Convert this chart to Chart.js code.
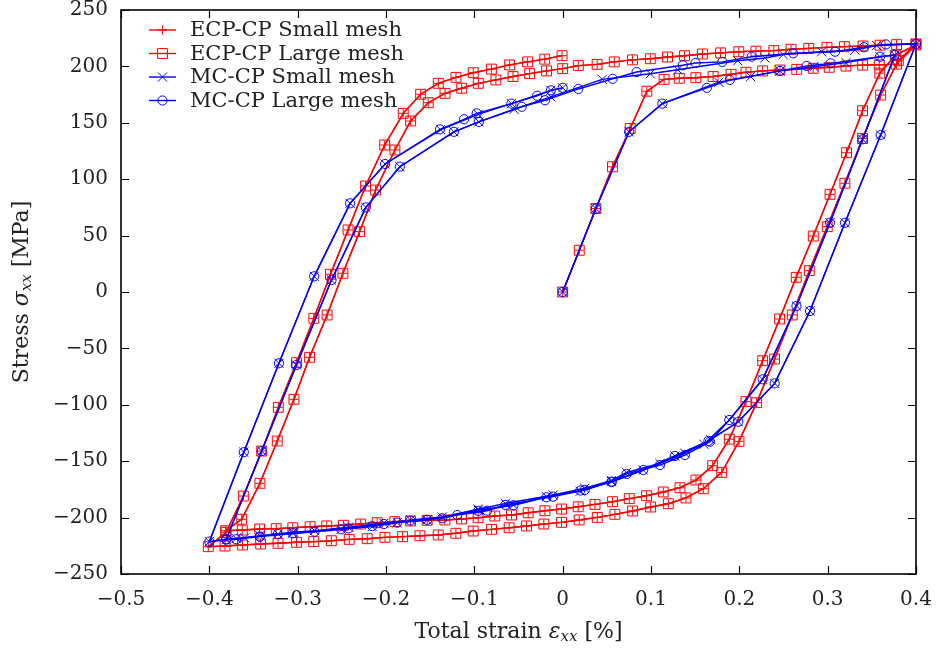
<!DOCTYPE html>
<html>
<head>
<meta charset="utf-8">
<title>Cyclic stress-strain</title>
<script src="https://cdn.jsdelivr.net/npm/chart.js@4.4.1/dist/chart.umd.min.js"></script>
<style>
  html, body { margin: 0; padding: 0; background: #fff; }
  #wrap { width: 938px; height: 652px; }
</style>
</head>
<body>
<div id="wrap"><canvas id="chart" width="938" height="652"></canvas></div>
<script>
// axis ticks
const xTicks = [-0.5, -0.4, -0.3, -0.2, -0.1, 0, 0.1, 0.2, 0.3, 0.4];
const xTickLabels = ['−0.5', '−0.4', '−0.3', '−0.2', '−0.1', '0', '0.1', '0.2', '0.3', '0.4'];
const yTicks = [-250, -200, -150, -100, -50, 0, 50, 100, 150, 200, 250];
const yTickLabels = ['−250', '−200', '−150', '−100', '−50', '0', '50', '100', '150', '200', '250'];

const seriesLabels = ['ECP-CP Small mesh', 'ECP-CP Large mesh', 'MC-CP Small mesh', 'MC-CP Large mesh'];

// ECP-CP (both meshes give the same curve)
const ecpStrain = [
  0, 0.0188, 0.0376, 0.0564, 0.0765, 0.0953, 0.1148, 0.132, 0.1508, 0.1703, 0.1906, 0.2075, 0.2264, 0.246, 0.265, 0.2837, 0.3018, 0.3207, 0.3396, 0.3584, 0.378, 0.4,
  0.377, 0.359, 0.3395, 0.3214, 0.3027, 0.2837, 0.2644, 0.2456, 0.2264, 0.2075, 0.1886, 0.1698, 0.1509, 0.1328, 0.1139, 0.095, 0.0754, 0.0565, 0.0366, 0.0176,
  -0.0012, -0.0201, -0.039, -0.0579, -0.0768, -0.0957, -0.1145, -0.1334, -0.1534, -0.1722, -0.19, -0.21, -0.2287, -0.2482, -0.2671, -0.2859, -0.3055, -0.3243, -0.3431, -0.3627, -0.3816,
  -0.3634, -0.3427, -0.3231, -0.3042, -0.2865, -0.2667, -0.2488, -0.2299, -0.2118, -0.1899, -0.1721, -0.1522, -0.1332, -0.1143, -0.0955, -0.0756, -0.0562, -0.0374, -0.0182, 0,
  0.0177, 0.039, 0.0584, 0.079, 0.0992, 0.1187, 0.138, 0.1583, 0.1788, 0.1994, 0.2188, 0.239, 0.2585, 0.2786, 0.2992, 0.3189, 0.34, 0.3593, 0.378, 0.4,
  0.38, 0.36, 0.3395, 0.3195, 0.2995, 0.2792, 0.2599, 0.2399, 0.2196, 0.1996, 0.18, 0.1592, 0.1396, 0.1196, 0.0996, 0.0792, 0.0591, 0.0392, 0.0187, -0.0013,
  -0.0213, -0.0409, -0.0606, -0.0805, -0.1013, -0.1209, -0.1409, -0.1616, -0.1812, -0.2012, -0.2213, -0.2416, -0.2619, -0.2818, -0.3013, -0.3222, -0.3419, -0.3624, -0.3823, -0.4012,
  -0.381, -0.3615, -0.3407, -0.3219, -0.3014, -0.2817, -0.2628, -0.2429, -0.2231, -0.2015, -0.1805, -0.1608, -0.1408, -0.1208, -0.1012, -0.0807, -0.06, -0.0397, -0.0203, -0.0007
];
const ecpStress = [
  0, 37, 74, 111, 145, 178, 188.5, 189.5, 190, 191, 193, 194.8, 196, 196.8, 197.4, 198.3, 199.2, 200.3, 201.1, 201.4, 202, 219,
  210, 194, 160.7, 123.5, 86.6, 49.6, 13, -23.9, -60.9, -97.2, -130.5, -154, -166.7, -173.5, -177.3, -180.6, -183.2, -185.9, -188.3, -190.4,
  -192.4, -193.9, -195.7, -197.7, -198.6, -200.1, -201.2, -202.1, -202.4, -203, -203.6, -204.5, -205.7, -206.8, -207.4, -208.1, -209, -209.8, -210.1, -211, -211.6,
  -201.5, -169.6, -132.1, -95.1, -57.9, -20.4, 16.6, 53.5, 90.4, 125.9, 151.6, 167.8, 176.1, 180.6, 185, 188, 191, 193.6, 196, 198,
  200.7, 201.8, 204, 205.8, 206.8, 208.3, 209.5, 211, 212, 213, 213.5, 214, 215.2, 216, 216.9, 217.5, 218.1, 218.8, 219.3, 220,
  205, 174.6, 136.2, 96.4, 57.9, 18.9, -20.4, -59.4, -98.1, -132.4, -159.9, -174.4, -182.6, -187.7, -190.6, -194.1, -197.1, -199.8, -202.1, -204.2,
  -205.7, -207.4, -209, -210.4, -211.9, -213.9, -215.4, -216.1, -216.9, -217.5, -218.7, -219.3, -220.5, -221.3, -221.9, -222.8, -223.4, -224.3, -225.2, -225.8,
  -213, -180.9, -141, -102.2, -62.7, -23.3, 15.7, 55, 94, 130.3, 158.4, 175.3, 185, 190.3, 194.4, 197.6, 201.3, 204, 206.4, 209.5
];

// MC-CP small mesh
const mcSmallStrain = [
  0, 0.0376, 0.0752, 0.1128, 0.1768, 0.2128, 0.246, 0.2845, 0.3207, 0.3592, 0.376,
  0.3396, 0.3026, 0.2647, 0.2264, 0.1886, 0.16, 0.1271, 0.0912, 0.0554, 0.02, -0.0183, -0.0558, -0.0956, -0.1534, -0.1873, -0.2156, -0.2507, -0.3054, -0.3224, -0.36, -0.381,
  -0.3407, -0.3014, -0.2617, -0.2228, -0.1843, -0.1231, -0.0949, -0.055, -0.0134, 0.0448, 0.0992, 0.1303, 0.1982, 0.229, 0.2497, 0.2932, 0.3308, 0.3555, 0.4,
  0.36, 0.3196, 0.28, 0.24, 0.1988, 0.1675, 0.1384, 0.1101, 0.0724, 0.0554, 0.025, -0.0107, -0.0649, -0.0956, -0.1364, -0.1723, -0.2024, -0.2424, -0.2809, -0.3054, -0.3428, -0.3696, -0.4,
  -0.361, -0.3212, -0.2813, -0.2406, -0.201, -0.1383, -0.0957, -0.058, -0.0134, 0
];
const mcSmallStress = [
  0, 74, 142, 167, 186, 190.9, 196, 199.7, 203.3, 208.6, 210,
  135.4, 61.4, -12.4, -77.4, -113.5, -135, -145.4, -157.8, -168.1, -176.5, -181.4, -188.8, -193.5, -202.1, -204.5, -208, -210.4, -213.9, -214.5, -218, -219.5,
  -141, -64.7, 10.6, 75, 111.1, 142, 150.8, 162, 173, 188.5, 193.5, 197, 205, 207.5, 210.5, 213, 214.5, 218.5, 220,
  139.2, 61.4, -16.8, -81, -115, -131, -143, -152, -160, -167, -174, -180, -187.5, -192.5, -199.5, -202, -205, -208.5, -211.5, -213, -216, -218.5, -221.3,
  -142, -63.2, 13.9, 78.6, 113.5, 143.8, 157.5, 167, 178.8, 181
];

// MC-CP large mesh
const mcLargeStrain = [
  0, 0.0376, 0.0752, 0.1128, 0.1632, 0.1893, 0.246, 0.2762, 0.3034, 0.3592, 0.376,
  0.3396, 0.3026, 0.2647, 0.2264, 0.1886, 0.1667, 0.1384, 0.1101, 0.0724, 0.0554, 0.025, -0.0107, -0.0649, -0.0856, -0.1194, -0.1364, -0.1723, -0.2024, -0.2424, -0.2809, -0.3428, -0.3696, -0.381,
  -0.3407, -0.3014, -0.2617, -0.2228, -0.1843, -0.1231, -0.0949, -0.0464, -0.02, 0.0177, 0.0565, 0.0837, 0.136, 0.1504, 0.1808, 0.214, 0.261, 0.3083, 0.341, 0.366, 0.4,
  0.36, 0.3196, 0.28, 0.24, 0.1988, 0.165, 0.127, 0.0912, 0.0554, 0.02, -0.0183, -0.0558, -0.0956, -0.1534, -0.1873, -0.2156, -0.2507, -0.3054, -0.3224, -0.3428, -0.3809, -0.4,
  -0.361, -0.3212, -0.2813, -0.2406, -0.201, -0.1389, -0.1117, -0.0973, -0.058, -0.0289, -0.0134, 0
];
const mcLargeStress = [
  0, 74, 142, 167, 181, 188, 196, 200.4, 202.7, 208.6, 210,
  135.4, 61.4, -12.4, -77.4, -113.5, -132.7, -144.5, -153.4, -161.3, -168.1, -175.5, -181.4, -188.8, -193.9, -197.7, -200.6, -202.7, -205.7, -209.5, -212.5, -216.9, -219.2, -219.5,
  -141, -64.7, 10.6, 75, 111.1, 142, 150.8, 164.2, 170, 180, 189, 195, 201, 203, 204, 208.6, 211.6, 213, 217, 219.5, 220,
  139.2, 61.4, -16.8, -81, -115, -132, -145.4, -157.8, -168.5, -176, -182, -189, -194, -202, -204.5, -207.5, -210.4, -213.9, -214.5, -216.9, -219.2, -221.3,
  -142, -63.2, 13.9, 78.6, 113.5, 144.2, 153.1, 158.4, 167, 174, 178.8, 181
];

const FONT = '"DejaVu Serif", "Liberation Serif", serif';
const TEXT = '#222';

function toPoints(xs, ys) {
  return xs.map((x, i) => ({ x: x, y: ys[i] }));
}

function series(label, xs, ys, color, style, radius, order) {
  return {
    label: label,
    data: toPoints(xs, ys),
    showLine: true,
    borderColor: color,
    borderWidth: 1.4,
    pointStyle: style,
    pointRadius: radius,
    pointBorderColor: color,
    pointBackgroundColor: 'rgba(0,0,0,0)',
    pointBorderWidth: 1,
    pointHoverRadius: radius,
    clip: false,
    order: order,
  };
}

// gnuplot-like frame with inward ticks
const framePlugin = {
  id: 'frame',
  beforeDatasetsDraw(chart) {
    const { ctx, chartArea: a, scales } = chart;
    ctx.save();
    ctx.strokeStyle = '#000';
    ctx.lineWidth = 1.2;
    ctx.beginPath();
    xTicks.forEach(v => {
      const px = Math.round(scales.x.getPixelForValue(v)) + 0.5;
      ctx.moveTo(px, a.bottom); ctx.lineTo(px, a.bottom - 8);
      ctx.moveTo(px, a.top); ctx.lineTo(px, a.top + 8);
    });
    yTicks.forEach(v => {
      const py = Math.round(scales.y.getPixelForValue(v)) + 0.5;
      ctx.moveTo(a.left, py); ctx.lineTo(a.left + 8, py);
      ctx.moveTo(a.right, py); ctx.lineTo(a.right - 8, py);
    });
    ctx.stroke();
    ctx.lineWidth = 1.6;
    ctx.strokeRect(a.left, a.top, a.right - a.left, a.bottom - a.top);
    ctx.restore();
  }
};

// axis titles with italic symbol and subscript
function drawRich(ctx, parts, cx, cy) {
  let total = 0;
  parts.forEach(p => { ctx.font = p.font; p.w = ctx.measureText(p.t).width; total += p.w; });
  let x = cx - total / 2;
  parts.forEach(p => {
    ctx.font = p.font;
    ctx.fillText(p.t, x, cy + (p.dy || 0));
    x += p.w;
  });
}

const titlePlugin = {
  id: 'titles',
  afterDraw(chart) {
    const { ctx, chartArea: a } = chart;
    ctx.save();
    ctx.fillStyle = TEXT;
    ctx.textBaseline = 'middle';
    ctx.textAlign = 'left';
    const n = '22px ' + FONT, it = 'italic 22px ' + FONT, sub = 'italic 15px ' + FONT;
    drawRich(ctx, [
      { t: 'Total strain ', font: n },
      { t: 'ε', font: it },
      { t: 'xx', font: sub, dy: 5 },
      { t: ' [%]', font: n }
    ], (a.left + a.right) / 2, 632);
    ctx.translate(22, (a.top + a.bottom) / 2);
    ctx.rotate(-Math.PI / 2);
    drawRich(ctx, [
      { t: 'Stress ', font: n },
      { t: 'σ', font: it },
      { t: 'xx', font: sub, dy: 5 },
      { t: ' [MPa]', font: n }
    ], 0, 0);
    ctx.restore();
  }
};

// key in the top-left corner: line sample with marker, then text
const keyPlugin = {
  id: 'key',
  afterDraw(chart) {
    const { ctx } = chart;
    ctx.save();
    chart.data.datasets.forEach((ds, i) => {
      const y = 30 + i * 23.5;
      ctx.strokeStyle = ds.borderColor;
      ctx.lineWidth = ds.borderWidth;
      ctx.beginPath();
      ctx.moveTo(149, y); ctx.lineTo(176, y);
      ctx.stroke();
      ctx.lineWidth = 1;
      ctx.fillStyle = 'rgba(0,0,0,0)';
      Chart.helpers.drawPoint(ctx, { pointStyle: ds.pointStyle, radius: ds.pointRadius, borderWidth: 1, rotation: 0 }, 162.5, y);
      ctx.fillStyle = TEXT;
      ctx.font = '21px ' + FONT;
      ctx.textBaseline = 'middle';
      ctx.textAlign = 'left';
      ctx.fillText(seriesLabels[i], 190, y + 1);
    });
    ctx.restore();
  }
};

new Chart(document.getElementById('chart'), {
  type: 'scatter',
  data: {
    datasets: [
      series(seriesLabels[0], ecpStrain, ecpStress, '#ff0000', 'cross', 4.5, 4),
      series(seriesLabels[1], ecpStrain, ecpStress, '#ff0000', 'rect', 7, 3),
      series(seriesLabels[2], mcSmallStrain, mcSmallStress, '#0000ff', 'crossRot', 6.5, 2),
      series(seriesLabels[3], mcLargeStrain, mcLargeStress, '#0000ff', 'circle', 4.6, 1),
    ],
  },
  options: {
    responsive: false,
    animation: false,
    layout: { padding: { left: 0, top: 10, right: 22, bottom: 0 } },
    plugins: {
      legend: { display: false },
      tooltip: { enabled: false },
    },
    elements: { line: { tension: 0 } },
    scales: {
      x: {
        type: 'linear',
        min: -0.5,
        max: 0.4,
        afterBuildTicks(scale) { scale.ticks = xTicks.map(v => ({ value: v })); },
        afterFit(scale) {
          scale.height = 78;
          scale.paddingLeft = 0;
          scale.paddingRight = 0;
        },
        ticks: {
          callback: (v, i) => xTickLabels[i],
          font: { family: FONT, size: 20 },
          color: TEXT,
          padding: 14,
          maxRotation: 0,
          autoSkip: false,
        },
        grid: { display: false, drawTicks: false },
        border: { display: false },
      },
      y: {
        type: 'linear',
        min: -250,
        max: 250,
        afterBuildTicks(scale) { scale.ticks = yTicks.map(v => ({ value: v })); },
        afterFit(scale) {
          scale.width = 121;
          scale.paddingTop = 0;
          scale.paddingBottom = 0;
        },
        ticks: {
          callback: (v, i) => yTickLabels[i],
          font: { family: FONT, size: 20 },
          color: TEXT,
          padding: 13,
          autoSkip: false,
        },
        grid: { display: false, drawTicks: false },
        border: { display: false },
      },
    },
  },
  plugins: [framePlugin, titlePlugin, keyPlugin],
});
</script>
</body>
</html>
